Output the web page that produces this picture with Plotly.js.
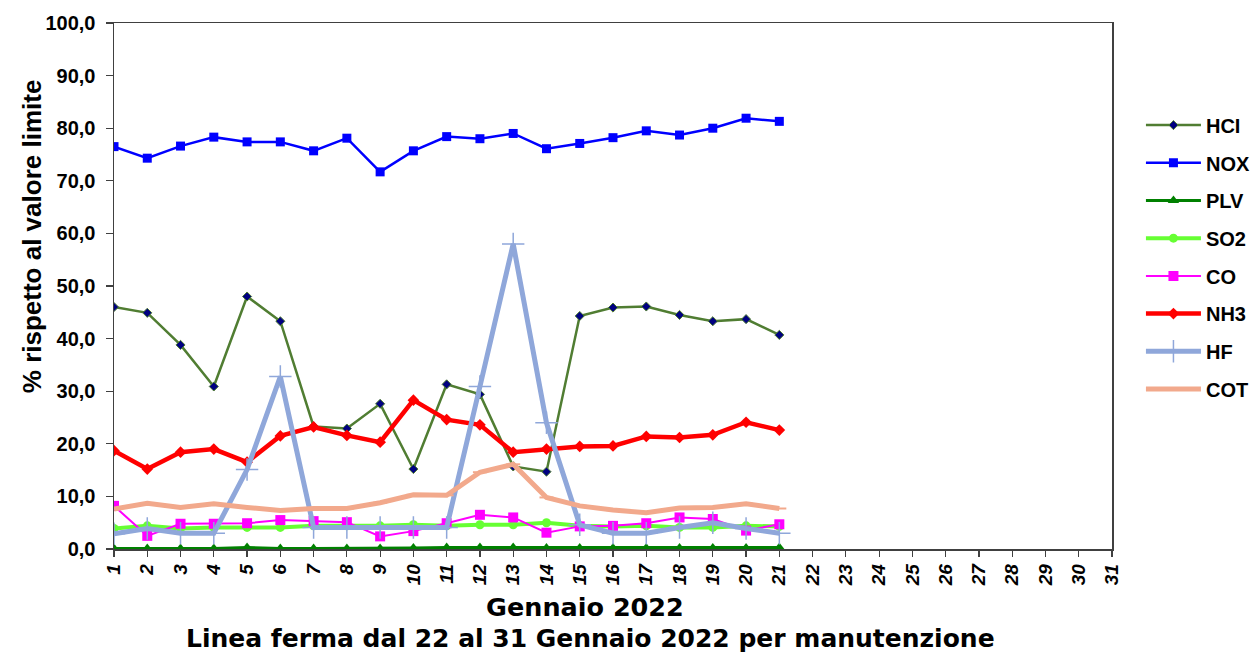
<!DOCTYPE html>
<html>
<head>
<meta charset="utf-8">
<script src="https://cdn.plot.ly/plotly-3.0.1.min.js"></script>
<style>html,body{margin:0;padding:0;background:#fff;}#chart{width:1254px;height:657px;}</style>
</head>
<body>
<div id="chart"></div>
<script>
const days = [1,2,3,4,5,6,7,8,9,10,11,12,13,14,15,16,17,18,19,20,21];
const tickDays = [1,2,3,4,5,6,7,8,9,10,11,12,13,14,15,16,17,18,19,20,21,22,23,24,25,26,27,28,29,30,31];
const tickLabels = tickDays.map(String);

const HCl = [46.0,44.9,38.8,30.9,48.0,43.3,23.3,22.9,27.6,15.2,31.3,29.4,15.7,14.7,44.3,45.9,46.1,44.5,43.3,43.7,40.7];
const NOX = [76.5,74.3,76.6,78.3,77.4,77.4,75.7,78.1,71.7,75.7,78.4,78.0,79.0,76.1,77.1,78.2,79.5,78.7,80.0,81.9,81.3];
const PLV = [0.1,0.1,0.1,0.1,0.3,0.1,0.1,0.1,0.1,0.2,0.3,0.3,0.3,0.2,0.2,0.2,0.2,0.2,0.2,0.2,0.3];
const SO2 = [3.9,4.4,3.9,4.1,4.1,4.1,4.4,4.4,4.4,4.6,4.4,4.6,4.6,5.0,4.4,4.3,4.4,4.1,4.1,4.4,4.3];
const CO  = [8.2,2.5,4.8,4.8,4.9,5.5,5.3,5.1,2.4,3.4,4.9,6.5,6.0,3.1,4.3,4.4,4.9,6.0,5.7,3.5,4.7];
const NH3 = [18.7,15.2,18.4,19.0,16.5,21.5,23.2,21.6,20.3,28.3,24.6,23.6,18.4,19.0,19.5,19.6,21.4,21.2,21.7,24.1,22.6];
const HF  = [2.9,3.9,3.0,3.0,15.1,32.8,4.1,4.1,4.1,4.1,4.1,30.9,58.0,24.0,4.6,3.0,3.0,4.1,5.0,3.9,3.0];
const COT = [7.6,8.7,7.9,8.6,7.9,7.3,7.7,7.7,8.8,10.3,10.2,14.6,16.1,9.8,8.2,7.4,6.9,7.8,7.9,8.6,7.7];

const seriesNames = ['HCI','NOX','PLV','SO2','CO','NH3','HF','COT'];

function tr(name, y, color, width, symbol, size, mcolor, mline){
  return {type:'scatter', mode:'lines+markers', name:name, x:days, y:y, legendgroup:name,
    line:{color:color, width:width},
    marker:{symbol:symbol, size:size, color:mcolor||color, line:mline||{width:0}},
    hoverinfo:'x+y+name'};
}
const data = [
  tr(seriesNames[0], HCl, '#507d32', 2.5, 'diamond', 7, '#000080', {color:'#507d32', width:1}),
  tr(seriesNames[1], NOX, '#0000ff', 2.5, 'square', 9),
  tr(seriesNames[2], PLV, '#008000', 3, 'triangle-up', 10),
  tr(seriesNames[3], SO2, '#66ff33', 4, 'circle', 9),
  tr(seriesNames[4], CO, '#ff00ff', 2, 'square', 10),
  tr(seriesNames[5], NH3, '#ff0000', 4.5, 'diamond', 9),
  tr(seriesNames[6], HF, '#8fa7da', 5, 'cross-thin', 16, '#8fa7da', {color:'#8fa7da', width:1.5}),
  tr(seriesNames[7], COT, '#f2a98c', 5, 'line-ew', 10, '#f2a98c', {color:'#f2a98c', width:2})
];

const F = 'Liberation Sans, Arial, sans-serif';
const layout = {
  width:1254, height:657,
  margin:{l:114, r:142, t:23, b:108, autoexpand:false},
  paper_bgcolor:'#ffffff', plot_bgcolor:'#ffffff',
  separators:',.',
  showlegend:true,
  font:{family:F, color:'#000'},
  xaxis:{range:[1,31], tickvals:tickDays, ticktext:tickLabels, tickangle:-90,
    showgrid:false, zeroline:false, showline:true, linecolor:'#404040', linewidth:1.5, mirror:true,
    ticks:'outside', ticklen:6, tickcolor:'#404040', tickwidth:1.2,
    tickfont:{family:F, size:19, weight:'bold', style:'italic', color:'#000'}},
  yaxis:{range:[0,100], dtick:10, tickformat:'.1f', showgrid:false, zeroline:false,
    showline:true, linecolor:'#404040', linewidth:1.5, mirror:true,
    ticks:'outside', ticklen:7, tickcolor:'#404040', tickwidth:1.2, ticklabelstandoff:6,
    tickfont:{family:F, size:20, weight:'bold', color:'#000'}},
  legend:{x:1.029, xanchor:'left', y:0.843, yanchor:'top', tracegroupgap:8.7, itemwidth:55,
    font:{family:F, size:20, weight:'bold', color:'#000'},
    bgcolor:'rgba(0,0,0,0)'},
  annotations:[
    {xref:'paper', yref:'paper', x:-0.082, y:0.595, xanchor:'center', yanchor:'middle', showarrow:false, textangle:-90,
     text:'% rispetto al valore limite', font:{family:F, size:26, weight:'bold', color:'#000'}},
    {xref:'paper', yref:'paper', x:0.472, y:-0.110, xanchor:'center', yanchor:'middle', showarrow:false,
     text:'Gennaio 2022', font:{family:'DejaVu Sans, Verdana, sans-serif', size:25.5, weight:'bold', color:'#000'}},
    {xref:'paper', yref:'paper', x:0.477, y:-0.171, xanchor:'center', yanchor:'middle', showarrow:false,
     text:'Linea ferma dal 22 al 31 Gennaio 2022 per manutenzione', font:{family:'DejaVu Sans, Verdana, sans-serif', size:25, weight:'bold', color:'#000'}}
  ]
};
Plotly.newPlot('chart', data, layout, {displayModeBar:false, staticPlot:true});
</script>
</body>
</html>
